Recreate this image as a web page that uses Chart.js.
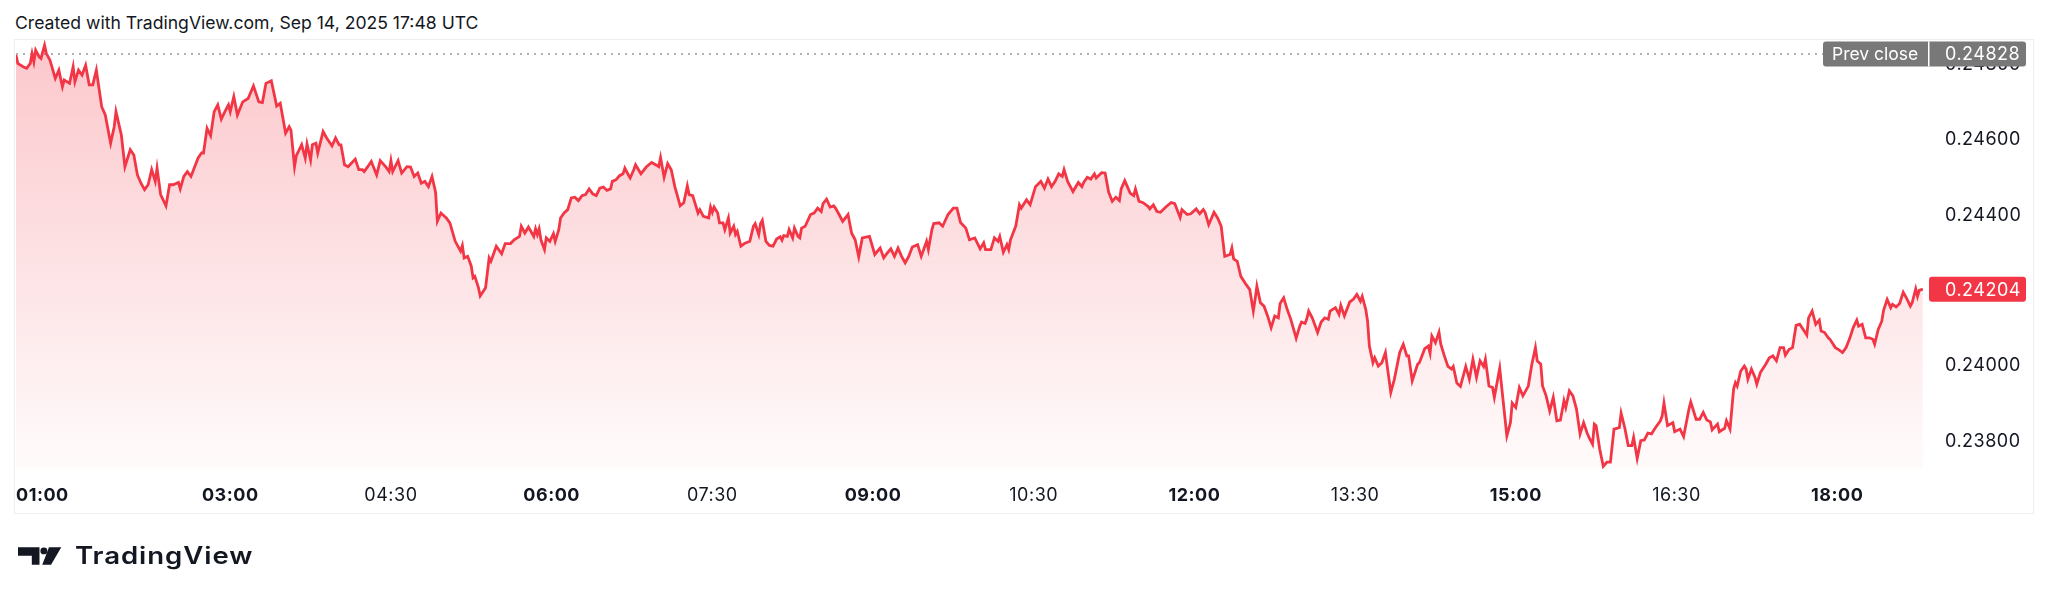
<!DOCTYPE html>
<html lang="en">
<head>
    <meta charset="UTF-8">
    <title>Price vs prev close</title>
    <script src="https://cdn.jsdelivr.net/npm/chart.js@4.4.1/dist/chart.umd.min.js"></script>
    <style>
        *{margin:0; padding:0;}
        body{width:2048px; height:604px; background:#fff; position:relative; overflow:hidden; font-family:Inter, "Noto Sans", sans-serif; color:#131722;}
        .created{position:absolute; left:15px; top:14px; font-size:17.6px; line-height:17px; white-space:nowrap;}
        .frame{position:absolute; left:14px; top:39px; width:2018px; height:473px; border:1px solid #eceef2;}
        #priceChart{position:absolute; left:0; top:0;}
        .logo_icon{position:absolute; left:18px; top:547px;}
        .logo_text{position:absolute; left:75px; top:544px; font-size:24px; line-height:24px; font-weight:600; letter-spacing:0.8px; white-space:nowrap; transform:scaleX(1.15); transform-origin:left top;}
    </style>
</head>
<body>
    <div class="created">Created with TradingView.com, Sep 14, 2025 17:48 UTC</div>
    <div class="frame"></div>
    <canvas id="priceChart" width="2048" height="604"></canvas>
    <svg class="logo_icon" width="44" height="18" viewBox="0 0 43 17">
        <path d="M0 0H21V17H13.5V8.3H0Z" fill="#131722"/>
        <circle cx="25.3" cy="3.5" r="3.4" fill="#131722"/>
        <path d="M30.3 0H42.3L32.3 17H23.7Z" fill="#131722"/>
    </svg>
    <div class="logo_text">TradingView</div>

    <script>
        // minutes after 00:00 (chart time)
        const minutes = [
            60,61,64,66,68,69,70,71,73,74,
            76,77,79,82,84,86,87,90,92,93,
            95,97,99,101,103,105,108,110,113,115,
            116,119,121,124,126,128,130,132,134,136,
            138,139,141,144,146,148,151,152,154,156,
            158,162,164,165,167,169,171,173,175,177,
            179,180,182,184,187,190,193,196,198,200,
            203,206,208,211,213,214,216,217,220,222,
            223,225,226,228,229,232,234,237,239,241,
            242,244,246,250,252,254,255,257,259,262,
            264,267,269,270,271,274,276,279,281,283,
            285,287,289,291,293,295,296,298,301,303,
            306,309,310,311,313,315,316,317,319,320,
            323,325,326,329,332,334,337,339,342,343,
            345,347,350,351,352,353,354,356,357,359,
            361,362,364,365,367,369,371,373,375,377,
            379,381,383,385,387,389,391,393,394,396,
            398,400,401,403,404,406,407,410,413,416,
            419,420,421,423,425,427,429,432,434,436,
            437,439,442,443,445,448,449,450,451,453,
            454,456,457,459,460,462,463,464,466,468,
            471,473,474,476,477,478,480,482,484,486,
            488,489,490,492,493,495,496,498,499,500,
            502,505,507,509,511,512,514,516,518,519,
            521,523,526,528,530,532,534,538,541,544,
            546,548,550,552,554,556,558,560,562,565,
            567,570,571,573,574,577,579,582,585,587,
            589,592,594,597,600,602,603,606,608,610,
            611,613,615,616,617,620,622,623,626,628,
            631,634,636,638,640,642,644,646,647,649,
            652,655,657,658,660,662,664,665,668,670,
            672,674,676,678,679,681,684,686,687,689,
            691,694,695,697,699,701,704,707,709,712,
            713,716,718,721,723,725,726,728,731,733,
            735,737,740,741,742,744,746,749,751,753,
            754,755,757,759,761,763,765,767,768,770,
            772,774,777,779,780,782,783,784,786,789,
            791,793,795,796,799,801,802,804,807,809,
            811,813,814,816,817,818,820,821,823,825,
            827,828,830,832,835,837,839,840,842,845,
            846,849,851,852,853,855,857,858,860,862,
            864,865,867,869,872,874,876,878,880,882,
            883,885,887,888,891,895,897,898,900,902,
            904,907,909,911,912,914,915,917,919,921,
            923,925,927,928,930,932,934,936,938,940,
            941,943,944,945,947,949,951,953,955,958,
            959,961,963,965,966,968,970,972,974,976,
            978,981,982,983,985,988,989,992,994,997,
            998,1001,1003,1005,1007,1009,1010,1013,1014,1017,
            1018,1020,1022,1023,1024,1026,1028,1029,1030,1032,
            1034,1035,1037,1040,1042,1044,1046,1048,1050,1051,
            1053,1055,1057,1059,1061,1063,1064,1066,1068,1070,
            1071,1073,1075,1076,1079,1081,1083,1085,1087,1089,
            1091,1092,1094,1096,1098,1100,1101,1103,1105,1106,
            1108,1110,1111,1113,1115,1117,1119,1121,1122,1124,
            1125,1126,1128
        ];

        const prices = [
            0.24825,0.24803,0.24794,0.24790,0.24803,0.24829,0.24807,0.24838,0.24820,0.24816,
            0.24851,0.24829,0.24812,0.24763,0.24785,0.24741,0.24759,0.24750,0.24794,0.24754,
            0.24785,0.24772,0.24798,0.24746,0.24746,0.24785,0.24688,0.24666,0.24591,0.24635,
            0.24675,0.24613,0.24529,0.24574,0.24560,0.24507,0.24485,0.24468,0.24481,0.24521,
            0.24490,0.24525,0.24455,0.24425,0.24481,0.24481,0.24487,0.24470,0.24503,0.24516,
            0.24503,0.24552,0.24566,0.24565,0.24631,0.24611,0.24675,0.24693,0.24655,0.24675,
            0.24693,0.24675,0.24715,0.24666,0.24701,0.24710,0.24743,0.24701,0.24699,0.24750,
            0.24757,0.24690,0.24697,0.24618,0.24635,0.24626,0.24529,0.24558,0.24587,0.24552,
            0.24589,0.24547,0.24587,0.24591,0.24565,0.24622,0.24605,0.24584,0.24605,0.24587,
            0.24587,0.24534,0.24529,0.24549,0.24521,0.24521,0.24516,0.24529,0.24543,0.24507,
            0.24545,0.24529,0.24516,0.24545,0.24516,0.24545,0.24512,0.24529,0.24528,0.24503,
            0.24512,0.24485,0.24490,0.24476,0.24503,0.24461,0.24384,0.24406,0.24393,0.24380,
            0.24331,0.24305,0.24320,0.24287,0.24291,0.24265,0.24234,0.24238,0.24208,0.24186,
            0.24208,0.24287,0.24278,0.24318,0.24298,0.24325,0.24325,0.24335,0.24344,0.24371,
            0.24353,0.24369,0.24344,0.24364,0.24349,0.24364,0.24335,0.24309,0.24340,0.24331,
            0.24351,0.24331,0.24362,0.24393,0.24406,0.24415,0.24446,0.24448,0.24439,0.24452,
            0.24455,0.24470,0.24457,0.24452,0.24472,0.24475,0.24466,0.24470,0.24490,0.24494,
            0.24505,0.24510,0.24525,0.24507,0.24499,0.24521,0.24534,0.24510,0.24528,0.24540,
            0.24532,0.24529,0.24553,0.24501,0.24537,0.24521,0.24476,0.24425,0.24433,0.24478,
            0.24455,0.24452,0.24406,0.24415,0.24397,0.24393,0.24422,0.24408,0.24422,0.24406,
            0.24380,0.24380,0.24362,0.24393,0.24353,0.24371,0.24349,0.24357,0.24318,0.24325,
            0.24331,0.24371,0.24378,0.24349,0.24378,0.24387,0.24331,0.24320,0.24318,0.24337,
            0.24343,0.24334,0.24346,0.24344,0.24362,0.24340,0.24366,0.24344,0.24340,0.24366,
            0.24371,0.24402,0.24406,0.24419,0.24410,0.24431,0.24443,0.24422,0.24425,0.24419,
            0.24402,0.24384,0.24402,0.24353,0.24335,0.24290,0.24340,0.24344,0.24296,0.24313,
            0.24287,0.24300,0.24311,0.24291,0.24313,0.24291,0.24274,0.24291,0.24316,0.24322,
            0.24291,0.24331,0.24309,0.24362,0.24378,0.24380,0.24371,0.24402,0.24419,0.24419,
            0.24381,0.24366,0.24335,0.24340,0.24311,0.24327,0.24309,0.24309,0.24340,0.24331,
            0.24344,0.24302,0.24322,0.24309,0.24335,0.24372,0.24428,0.24419,0.24441,0.24428,
            0.24476,0.24490,0.24472,0.24496,0.24476,0.24490,0.24510,0.24503,0.24521,0.24490,
            0.24463,0.24487,0.24476,0.24487,0.24501,0.24496,0.24510,0.24499,0.24513,0.24512,
            0.24461,0.24437,0.24448,0.24439,0.24470,0.24492,0.24459,0.24452,0.24470,0.24437,
            0.24434,0.24424,0.24417,0.24428,0.24410,0.24408,0.24422,0.24434,0.24431,0.24394,
            0.24415,0.24402,0.24404,0.24417,0.24404,0.24415,0.24408,0.24375,0.24408,0.24393,
            0.24371,0.24291,0.24296,0.24313,0.24284,0.24278,0.24238,0.24216,0.24203,0.24146,
            0.24177,0.24212,0.24168,0.24159,0.24133,0.24102,0.24133,0.24128,0.24166,0.24181,
            0.24150,0.24124,0.24074,0.24106,0.24117,0.24113,0.24126,0.24146,0.24128,0.24089,
            0.24117,0.24128,0.24124,0.24146,0.24155,0.24137,0.24161,0.24133,0.24170,0.24177,
            0.24190,0.24172,0.24185,0.24150,0.24119,0.24053,0.24009,0.24022,0.24000,0.24009,
            0.24036,0.24000,0.23930,0.23965,0.24036,0.24058,0.24027,0.24027,0.23961,0.24005,
            0.24009,0.24046,0.24053,0.24034,0.24080,0.24062,0.24090,0.24058,0.24027,0.23999,
            0.23992,0.23999,0.23955,0.23946,0.23999,0.23965,0.24018,0.23970,0.24014,0.23999,
            0.24018,0.23947,0.23943,0.23917,0.23994,0.23815,0.23850,0.23902,0.23890,0.23943,
            0.23921,0.23947,0.24005,0.24049,0.24014,0.24005,0.23947,0.23921,0.23881,0.23917,
            0.23855,0.23857,0.23908,0.23890,0.23934,0.23921,0.23886,0.23820,0.23850,0.23822,
            0.23811,0.23793,0.23846,0.23842,0.23780,0.23734,0.23745,0.23745,0.23833,0.23837,
            0.23875,0.23837,0.23789,0.23789,0.23811,0.23755,0.23802,0.23804,0.23822,0.23820,
            0.23835,0.23855,0.23868,0.23902,0.23842,0.23850,0.23826,0.23833,0.23813,0.23886,
            0.23905,0.23859,0.23859,0.23877,0.23857,0.23852,0.23831,0.23846,0.23826,0.23835,
            0.23855,0.23833,0.23939,0.23956,0.23947,0.23987,0.24000,0.23992,0.23965,0.23992,
            0.23970,0.23952,0.23983,0.24005,0.24022,0.24027,0.24014,0.24049,0.24049,0.24029,
            0.24044,0.24049,0.24108,0.24111,0.24097,0.24082,0.24128,0.24146,0.24111,0.24122,
            0.24093,0.24089,0.24075,0.24071,0.24049,0.24043,0.24036,0.24049,0.24073,0.24102,
            0.24122,0.24106,0.24111,0.24075,0.24075,0.24071,0.24058,0.24097,0.24119,0.24148,
            0.24177,0.24155,0.24164,0.24157,0.24166,0.24196,0.24179,0.24159,0.24168,0.24205,
            0.24185,0.24201,0.24204
        ];

        const prevClose = 0.24828;
        const priceTicks = [0.238, 0.240, 0.242, 0.244, 0.246, 0.248];
        const timeTicks = [60, 180, 270, 360, 450, 540, 630, 720, 810, 900, 990, 1080];

        const lineColor = '#f23645';
        const textColor = '#131722';
        const fontFamily = 'Inter, "Noto Sans", sans-serif';

        function hhmm(m){
            const h = Math.floor(m / 60), mm = m % 60;
            return String(h).padStart(2, '0') + ':' + String(mm).padStart(2, '0');
        }

        const points = minutes.map(function(m, i){ return {x: m, y: prices[i]}; });
        const lastPrice = prices[prices.length - 1];
        const xMin = minutes[0];
        const xMax = 1132;

        // a touch of tracking, the screenshot font runs wider than Inter
        const tracking = {
            id: 'tracking',
            beforeDraw: function(chart){ chart.ctx.letterSpacing = '0.5px'; }
        };

        // prev close / last price tags on the price scale
        const priceTags = {
            id: 'priceTags',
            afterDraw: function(chart){
                const ctx = chart.ctx;
                const area = chart.chartArea;
                const y = chart.scales.y;
                const right = y.right - 7;
                const h = 25;

                function box(x1, x2, cy, color){
                    ctx.fillStyle = color;
                    ctx.beginPath();
                    ctx.roundRect(x1, cy - h / 2, x2 - x1, h, 3);
                    ctx.fill();
                }

                ctx.save();
                ctx.textBaseline = 'middle';
                ctx.textAlign = 'left';

                // prev close
                let cy = y.getPixelForValue(prevClose);
                box(area.right - 107, right, cy, '#787878');
                ctx.fillStyle = '#fff';
                ctx.fillRect(area.right - 2, cy - h / 2, 1.5, h);
                ctx.letterSpacing = '0px';
                ctx.font = '17.5px ' + fontFamily;
                ctx.fillText('Prev close', area.right - 98, cy + 1);
                ctx.letterSpacing = '0.5px';
                ctx.font = '18px ' + fontFamily;
                ctx.fillText(prevClose.toFixed(5), area.right + 15, cy + 1);

                // last price
                cy = y.getPixelForValue(lastPrice);
                box(area.right - 1, right, cy, lineColor);
                ctx.fillStyle = '#fff';
                ctx.fillText(lastPrice.toFixed(5), area.right + 15, cy + 1);
                ctx.restore();
            }
        };

        const config = {
            type: 'line',
            data: {
                datasets: [
                    {
                        data: points,
                        borderColor: lineColor,
                        borderWidth: 2.8,
                        pointRadius: 0,
                        tension: 0,
                        fill: 'start',
                        backgroundColor: function(c){
                            const area = c.chart.chartArea;
                            if(!area) return 'rgba(242,54,69,0.15)';
                            const g = c.chart.ctx.createLinearGradient(0, area.top, 0, area.bottom);
                            g.addColorStop(0, 'rgba(242,54,69,0.28)');
                            g.addColorStop(1, 'rgba(242,54,69,0.02)');
                            return g;
                        },
                        order: 1
                    },
                    {
                        data: [{x: xMin, y: prevClose}, {x: xMax, y: prevClose}],
                        borderColor: '#9598a1',
                        borderWidth: 1.5,
                        borderDash: [2, 5],
                        pointRadius: 0,
                        fill: false,
                        order: 2
                    }
                ]
            },
            options: {
                responsive: false,
                animation: false,
                devicePixelRatio: 1,
                layout: {padding: {left: 15, top: 40, right: 15, bottom: 91}},
                plugins: {legend: {display: false}, tooltip: {enabled: false}},
                scales: {
                    x: {
                        type: 'linear',
                        min: xMin,
                        max: xMax,
                        grid: {display: false, drawTicks: false},
                        border: {display: false},
                        afterBuildTicks: function(scale){
                            scale.ticks = timeTicks.concat([xMax]).map(function(v){ return {value: v}; });
                        },
                        afterFit: function(scale){ scale.height = 44; },
                        ticks: {
                            autoSkip: false,
                            maxRotation: 0,
                            align: 'inner',
                            padding: 16,
                            color: textColor,
                            font: function(c){
                                const bold = c.tick && c.tick.value % 60 === 0;
                                return {family: fontFamily, size: 18, weight: bold ? '700' : '400'};
                            },
                            callback: function(v){ return v === xMax ? '' : hhmm(v); }
                        }
                    },
                    y: {
                        position: 'right',
                        min: 0.23727,
                        max: 0.24865,
                        grid: {display: false, drawTicks: false},
                        border: {display: false},
                        afterBuildTicks: function(scale){
                            scale.ticks = priceTicks.map(function(v){ return {value: v}; });
                        },
                        afterFit: function(scale){ scale.width = 103; },
                        ticks: {
                            padding: 15,
                            color: textColor,
                            font: {family: fontFamily, size: 18},
                            callback: function(v){ return v.toFixed(5); }
                        }
                    }
                }
            },
            plugins: [tracking, priceTags]
        };

        const ctx = document.querySelector('#priceChart').getContext('2d');
        let priceChart = new Chart(ctx, config);
    </script>
</body>
</html>
